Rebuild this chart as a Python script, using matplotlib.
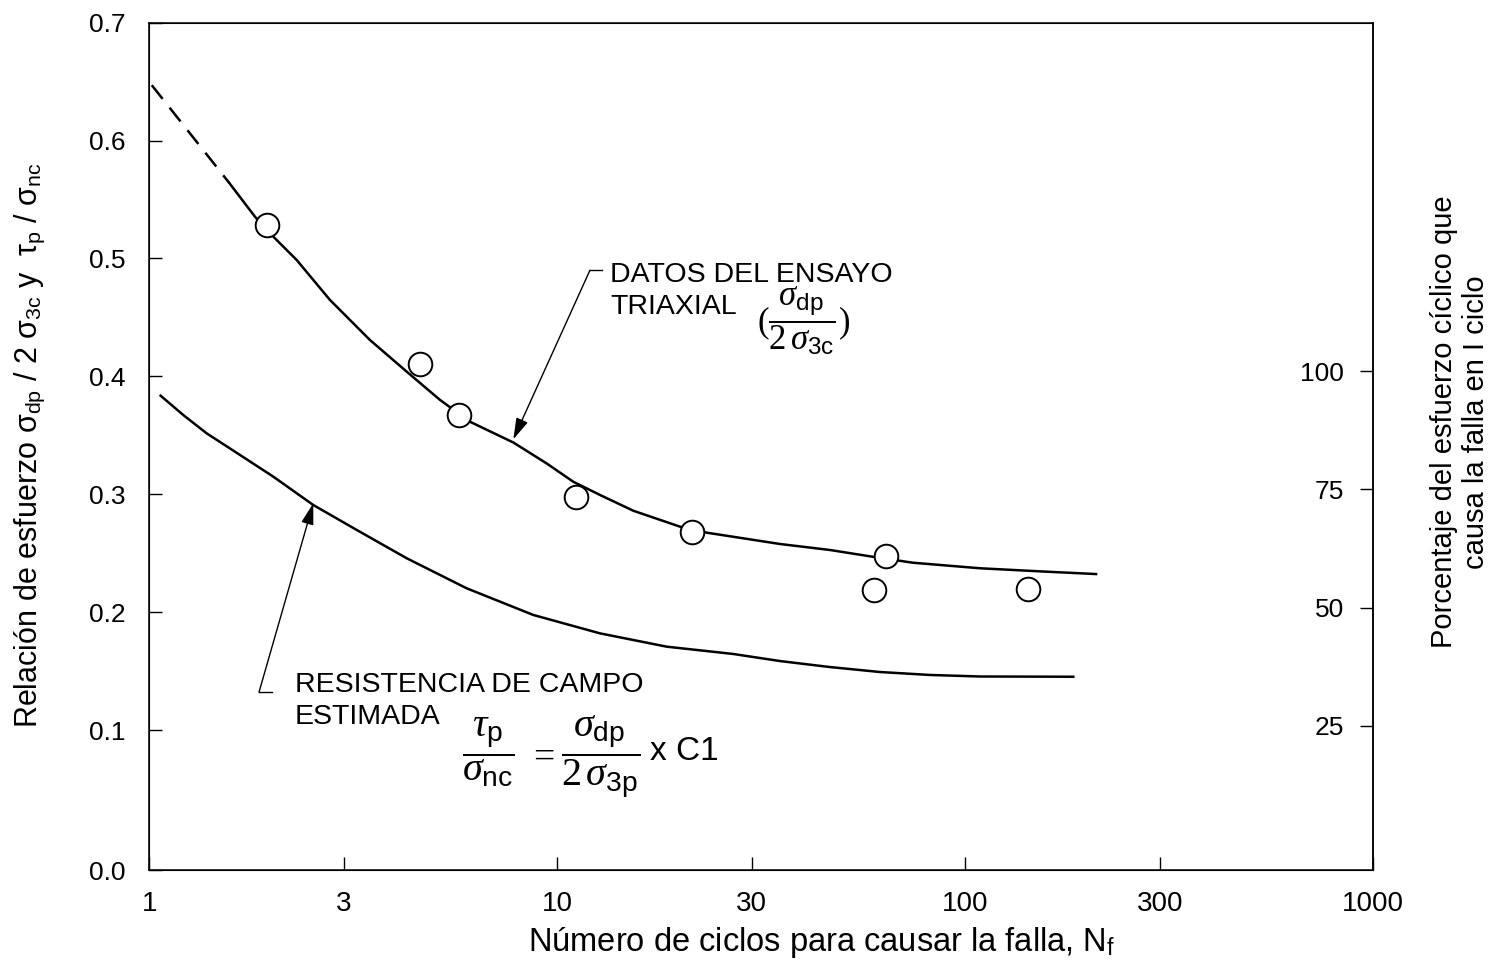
import numpy as np
import matplotlib
matplotlib.use('Agg')
import matplotlib.pyplot as plt

plt.rcParams['font.family'] = ['Liberation Sans', 'DejaVu Sans']
plt.rcParams['mathtext.fontset'] = 'custom'
plt.rcParams['mathtext.rm'] = 'Liberation Serif'
plt.rcParams['mathtext.it'] = 'Liberation Serif:italic'
plt.rcParams['mathtext.sf'] = 'Liberation Sans'

# ensayo triaxial: puntos medidos
pts_n = [1.94, 4.61, 5.74, 11.1, 21.4, 64.0, 59.9, 142.9]
pts_r = [0.528, 0.4105, 0.367, 0.298, 0.268, 0.248, 0.219, 0.2196]

# curva ajustada: tramo extrapolado (a trazos) y tramo continuo
dash_n = [1.014, 1.571]
dash_r = [0.647, 0.564]
tri_n = [1.571, 1.816, 2.014, 2.298, 2.773, 3.476, 4.276, 5.161, 6.112, 7.806, 9.426,
         10.95, 12.73, 15.37, 20.0, 23.26, 35.17, 46.66, 59.79, 74.53, 108.8, 158.5, 209.4]
tri_r = [0.564, 0.5354, 0.5185, 0.4987, 0.4648, 0.4308, 0.404, 0.380, 0.3615, 0.3439, 0.3261,
         0.3106, 0.2994, 0.2860, 0.2725, 0.2674, 0.2578, 0.2527, 0.2468, 0.2419, 0.2372, 0.2343, 0.2323]

# resistencia de campo estimada
campo_n = [1.066, 1.2115, 1.382, 1.669, 2.014, 2.523, 3.225, 4.276, 6.0, 8.737, 12.73,
           18.55, 27.02, 35.17, 46.66, 61.85, 82.0, 108.8, 184.2]
campo_r = [0.3836, 0.3672, 0.3517, 0.3333, 0.3149, 0.2909, 0.2697, 0.2457, 0.2202, 0.1976, 0.182,
           0.1707, 0.1645, 0.1585, 0.1534, 0.1492, 0.1467, 0.1454, 0.1452]

xticks = [1, 3, 10, 30, 100, 300, 1000]
yticks = [0.1, 0.2, 0.3, 0.4, 0.5, 0.6, 0.7]
rticks = [25, 50, 75, 100]

W, H = 1497, 963
fig = plt.figure(figsize=(W / 100, H / 100), dpi=100)
ax = fig.add_axes([149.3 / W, 1 - 870.3 / H, 1223.7 / W, 847.6 / H])

ax.plot(dash_n, dash_r, color='k', lw=1.8, ls=(0, (7, 4.5)))
ax.plot(tri_n, tri_r, color='k', lw=1.8, solid_joinstyle='round')
ax.plot(campo_n, campo_r, color='k', lw=1.8, solid_joinstyle='round')
ax.plot(pts_n, pts_r, 'o', ms=17, mfc='white', mec='k', mew=1.4, ls='none')

ax.set_xscale('log')
ax.set_xlim(1, 1000)
ybot = -0.019
ax.set_ylim(ybot, 0.7)
ax.set_xticks(xticks)
ax.set_xticklabels([str(v) for v in xticks])
ax.xaxis.set_minor_locator(matplotlib.ticker.NullLocator())
ax.set_yticks([ybot] + yticks)
ax.set_yticklabels(['0.0'] + ['%.1f' % v for v in yticks])
ax.tick_params(direction='in', length=9.5, width=1.0)
ax.tick_params(axis='y', labelsize=19, pad=17)
ax.tick_params(axis='x', labelsize=20, pad=15)
for s in ax.spines.values():
    s.set_linewidth(1.1)

ax2 = ax.twinx()
ax2.set_ylim(25 + (ybot - 0.10365) / 0.004011, 25 + (0.7 - 0.10365) / 0.004011)
ax2.set_yticks(rticks)
ax2.tick_params(direction='in', length=9.5, width=1.0, labelsize=19, pad=-21)
for t in ax2.get_yticklabels():
    t.set_horizontalalignment('right')
ax2.spines['right'].set_linewidth(1.1)

# flechas y textos
arr = dict(arrowstyle='-|>,head_length=1.3,head_width=0.38', lw=1.0, color='k',
           shrinkA=0, shrinkB=0)
ax.plot([12.03, 12.88], [0.490, 0.490], color='k', lw=1.0)
ax.annotate('', xy=(7.806, 0.3466), xytext=(12.03, 0.490), arrowprops=arr)
ax.plot([1.858, 2.0], [0.1322, 0.1322], color='k', lw=1.0)
ax.annotate('', xy=(2.523, 0.2923), xytext=(1.858, 0.1322), arrowprops=arr)

def ft(x, y, s, **kw):
    fig.text(x / W, 1 - y / H, s, **kw)

ft(610, 281.7, 'DATOS DEL ENSAYO', fontsize=20.5, va='baseline')
ft(610, 314, 'TRIAXIAL', fontsize=20.5, va='baseline')
ft(757, 321, r'$(\dfrac{\sigma_{\mathsf{dp}}}{2\,\sigma_{\mathsf{3c}}})$', fontsize=25, va='center')

ft(295, 692.3, 'RESISTENCIA DE CAMPO', fontsize=20.5, va='baseline')
ft(295, 724, 'ESTIMADA', fontsize=20.5, va='baseline')
ft(462, 767, r'$\dfrac{\tau_{\mathsf{p}}}{\sigma_{\mathsf{nc}}}$', fontsize=29, va='baseline')
ft(528, 767, r'$=$', fontsize=27, va='baseline')
ft(561, 767, r'$\dfrac{\sigma_{\mathsf{dp}}}{2\,\sigma_{\mathsf{3p}}}$', fontsize=29, va='baseline')
ft(650, 760, 'x C1', fontsize=24, va='baseline')

ft(30, 445, 'Relación de esfuerzo σ$_{\\mathsf{dp}}$ / 2 σ$_{\\mathsf{3c}}$ y  τ$_{\\mathsf{p}}$ / σ$_{\\mathsf{nc}}$',
   fontsize=22, rotation=90, ha='center', va='center')
ft(1460, 422, 'Porcentaje del esfuerzo cíclico que\ncausa la falla en I ciclo',
   fontsize=21, rotation=90, ha='center', va='center', multialignment='center',
   linespacing=1.2)
ft(822, 942, 'Número de ciclos para causar la falla, N$_{\\mathsf{f}}$',
   fontsize=23.5, ha='center', va='center')

fig.savefig('out.png', dpi=100)
